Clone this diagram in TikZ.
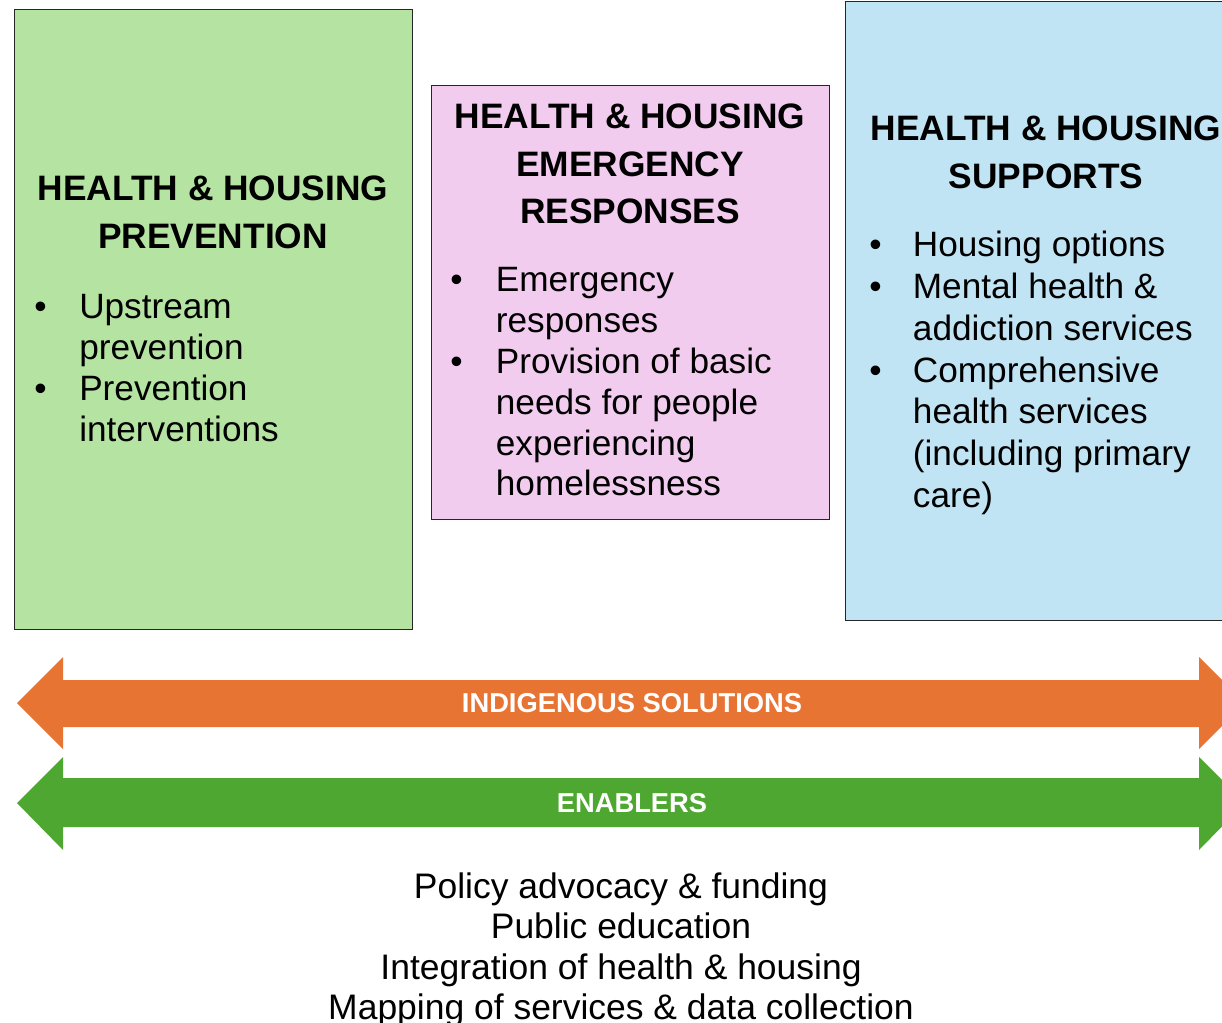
\documentclass[tikz,border=0pt]{standalone}
\usepackage{fontspec}
\setmainfont{Liberation Sans}
\usepackage{tikz}
\usetikzlibrary{positioning}

\definecolor{prevgreen}{RGB}{181,228,162}
\definecolor{emerpink}{RGB}{242,204,238}
\definecolor{suppblue}{RGB}{193,228,244}
\definecolor{indigorange}{RGB}{232,116,52}
\definecolor{enablgreen}{RGB}{78,167,48}

\tikzstyle{panel} = [rectangle, draw=black!85, line width=1pt, inner sep=0pt, anchor=north west]
\tikzstyle{heading} = [align=center, inner sep=0pt, font=\fontsize{26.5}{35.6}\selectfont\bfseries]
\tikzstyle{points} = [anchor=base west, inner sep=0pt, font=\fontsize{26.4}{30.6}\selectfont]
\tikzstyle{banner} = [inner sep=0pt, text=white, font=\fontsize{20.5}{24}\selectfont\bfseries]

\begin{document}
\begin{tikzpicture}[x=0.75pt, y=-0.75pt]
\useasboundingbox (0,0) rectangle (1222,1023);
\clip (0,0) rectangle (1222,1023);

% three boxes
\node (prevbox) [panel, fill=prevgreen, minimum width=298.5pt, minimum height=465pt] at (14,9) {};
\node (emerbox) [panel, fill=emerpink, minimum width=298.5pt, minimum height=325.5pt] at (431,85) {};
\node (suppbox) [panel, fill=suppblue, minimum width=301.5pt, minimum height=464.25pt] at (845,1) {};

\node (prevtitle) [heading] at (213,212.5) {HEALTH \& HOUSING\\PREVENTION};
\node (emertitle) [heading] at (630,164) {HEALTH \& HOUSING\\EMERGENCY\\RESPONSES};
\node (supptitle) [heading] at (1046,152.5) {HEALTH \& HOUSING\\SUPPORTS};

\node (prevlist) [points] at (34,319) {\begin{tabular}[t]{@{}l@{\hspace{24.5pt}}l@{}}
\textbullet & Upstream\\
 & prevention\\
\textbullet & Prevention\\
 & interventions
\end{tabular}};
\node (emerlist) [points] at (450,292) {\begin{tabular}[t]{@{}l@{\hspace{25pt}}l@{}}
\textbullet & Emergency\\
 & responses\\
\textbullet & Provision of basic\\
 & needs for people\\
 & experiencing\\
 & homelessness
\end{tabular}};
\node (supplist) [points, font=\fontsize{26.4}{31.3}\selectfont] at (869,257) {\begin{tabular}[t]{@{}l@{\hspace{23.5pt}}l@{}}
\textbullet & Housing options\\
\textbullet & Mental health \&\\
 & addiction services\\
\textbullet & Comprehensive\\
 & health services\\
 & (including primary\\
 & care)
\end{tabular}};

% two double arrows
\fill[indigorange] (17,703) -- (63,657) -- (63,680) -- (1199,680) -- (1199,657) -- (1245,703)
  -- (1199,749) -- (1199,727) -- (63,727) -- (63,749) -- cycle;
\fill[enablgreen] (17,803) -- (63,757) -- (63,778) -- (1199,778) -- (1199,757) -- (1245,803)
  -- (1199,850) -- (1199,827) -- (63,827) -- (63,850) -- cycle;
\node (indig) [banner] at (632,703) {INDIGENOUS SOLUTIONS};
\node (enabl) [banner] at (632,803) {ENABLERS};

\node (enabllist) [align=center, inner sep=0pt, font=\fontsize{26.6}{30.4}\selectfont] at (621,950)
  {Policy advocacy \& funding\\Public education\\Integration of health \& housing\\Mapping of services \& data collection};
\end{tikzpicture}
\end{document}
